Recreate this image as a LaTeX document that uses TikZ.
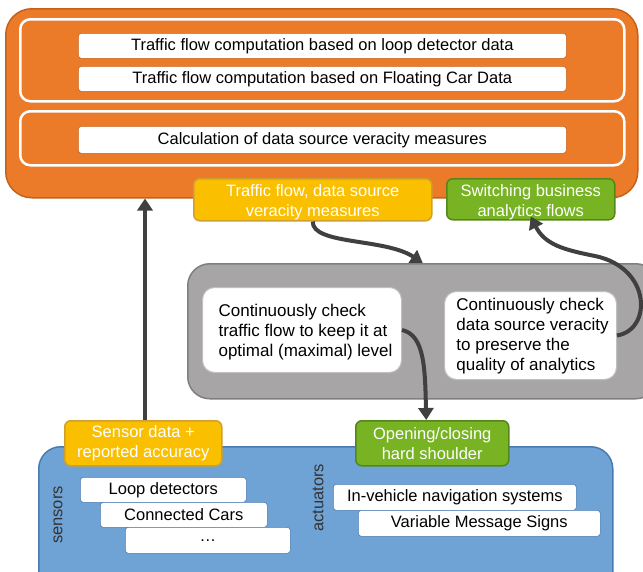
\documentclass[tikz,border=0pt]{standalone}
\usepackage{fontspec}
\setmainfont{Liberation Sans}
\usetikzlibrary{arrows.meta}
\definecolor{orfill}{HTML}{EB7B28}
\definecolor{ordraw}{HTML}{C4621C}
\definecolor{yfill}{HTML}{FAC000}
\definecolor{ydraw}{HTML}{CFA030}
\definecolor{gfill}{HTML}{77B322}
\definecolor{gdraw}{HTML}{55861C}
\definecolor{grfill}{HTML}{A7A5A5}
\definecolor{grdraw}{HTML}{7F7F7F}
\definecolor{bfill}{HTML}{6FA3D5}
\definecolor{bdraw}{HTML}{4A7BB0}
\definecolor{arr}{HTML}{404040}
\newcommand{\dn}[2]{\raisebox{-#1}[\height][\depth]{#2}}
\tikzset{
  base/.style={inner sep=0pt, align=center, anchor=north west, font=\fontsize{16.5}{20}\selectfont},
  bigor/.style={base, fill=orfill, draw=ordraw, line width=1.5pt, rounded corners=26pt},
  inor/.style={base, fill=orfill, draw=white, line width=2.5pt, rounded corners=10pt},
  owbox/.style={base, fill=white, draw=ordraw, line width=0.6pt, rounded corners=3pt},
  ybox/.style={base, fill=yfill, draw=ydraw, line width=1.5pt, rounded corners=6pt, text=white},
  gbox/.style={base, fill=gfill, draw=gdraw, line width=1.5pt, rounded corners=6pt, text=white},
  graybox/.style={base, fill=grfill, draw=grdraw, line width=1.5pt, rounded corners=22pt},
  gwbox/.style={base, fill=white, draw=grfill!70!white, line width=1pt, rounded corners=12pt, align=left, font=\fontsize{17}{20}\selectfont},
  bluebox/.style={base, fill=bfill, draw=bdraw, line width=1.5pt, rounded corners=22pt},
  bwbox/.style={base, fill=white, draw=bdraw, line width=0.6pt, rounded corners=3pt},
  side/.style={inner sep=0pt, rotate=90, font=\fontsize{16.5}{20}\selectfont, text=arr!80!black},
  flow/.style={draw=arr, line width=4pt, -{Triangle[length=12pt,width=15pt]}},
}
\begin{document}
\begin{tikzpicture}[x=1pt,y=-1pt]
\useasboundingbox (0,0) rectangle (643,571);
\begin{scope}
\clip (0,0) rectangle (643,571);
% top orange block
\node[bigor, minimum width=632pt, minimum height=189pt] (top) at (5,8) {};
\node[inor, minimum width=604pt, minimum height=82pt] (in1) at (19,18) {};
\node[inor, minimum width=604pt, minimum height=54pt] (in2) at (19,110) {};
\node[owbox, minimum width=488pt, minimum height=25pt] (t1) at (78,33) {Traffic flow computation based on loop detector data};
\node[owbox, minimum width=488pt, minimum height=25pt] (t2) at (78,66) {Traffic flow computation based on Floating Car Data};
\node[owbox, minimum width=488pt, minimum height=27pt] (t3) at (78,126) {Calculation of data source veracity measures};
\node[ybox, minimum width=238pt, minimum height=42pt] (yb) at (193,178) {\dn{3pt}{\begin{tabular}{@{}c@{}}Traffic flow, data source\\veracity measures\end{tabular}}};
\node[gbox, minimum width=168pt, minimum height=41pt] (sw) at (446,178) {\dn{3pt}{\begin{tabular}{@{}c@{}}Switching business\\analytics flows\end{tabular}}};
% gray block
\node[graybox, minimum width=470pt, minimum height=135pt] (gray) at (187,263) {};
\node[gwbox, minimum width=199pt, minimum height=85pt] (cl) at (202,287) {\hspace*{7pt}\dn{2pt}{\begin{tabular}{@{}l@{}}Continuously check\\traffic flow to keep it at\\optimal (maximal) level\end{tabular}}};
\node[gwbox, minimum width=172pt, minimum height=88pt] (cr) at (444,291) {\hspace*{4pt}\dn{1pt}{\begin{tabular}{@{}l@{}}Continuously check\\data source veracity\\to preserve the\\quality of analytics\end{tabular}}};
% blue block
\node[bluebox, minimum width=574pt, minimum height=160pt] (blue) at (38,446) {};
\node[ybox, minimum width=157pt, minimum height=45pt] (sens) at (64,420) {Sensor data +\\reported accuracy};
\node[gbox, minimum width=153pt, minimum height=45pt] (og) at (355,420) {Opening/closing\\hard shoulder};
\node[bwbox, minimum width=166pt, minimum height=25pt] (ld) at (80,477) {Loop detectors};
\node[bwbox, minimum width=167pt, minimum height=25pt] (cc) at (100,502) {Connected Cars};
\node[bwbox, minimum width=165pt, minimum height=26pt] (dots) at (125,527) {\dots};
\node[side] (slab) at (58,515) {sensors};
\node[side] (alab) at (318,498) {actuators};
\node[bwbox, minimum width=243pt, minimum height=26pt] (iv) at (333,484) {In-vehicle navigation systems};
\node[bwbox, minimum width=242pt, minimum height=26pt] (vm) at (358,510) {Variable Message Signs};
% connectors
\draw[flow] (sens.north -| 145,0) -- (top.south -| 145,0);
\draw[flow] (yb.south) .. controls (312,245) and (385,238) .. (gray.north);
\draw[flow] (cl.east) .. controls (425,335) and (425,370) .. ([xshift=-6pt]og.north);
\draw[flow] (cr.east) .. controls (652,330) and (652,268) .. (595,256) .. controls (565,250) and (545,245) .. ([yshift=4pt]sw.south);
\end{scope}
\end{tikzpicture}
\end{document}
